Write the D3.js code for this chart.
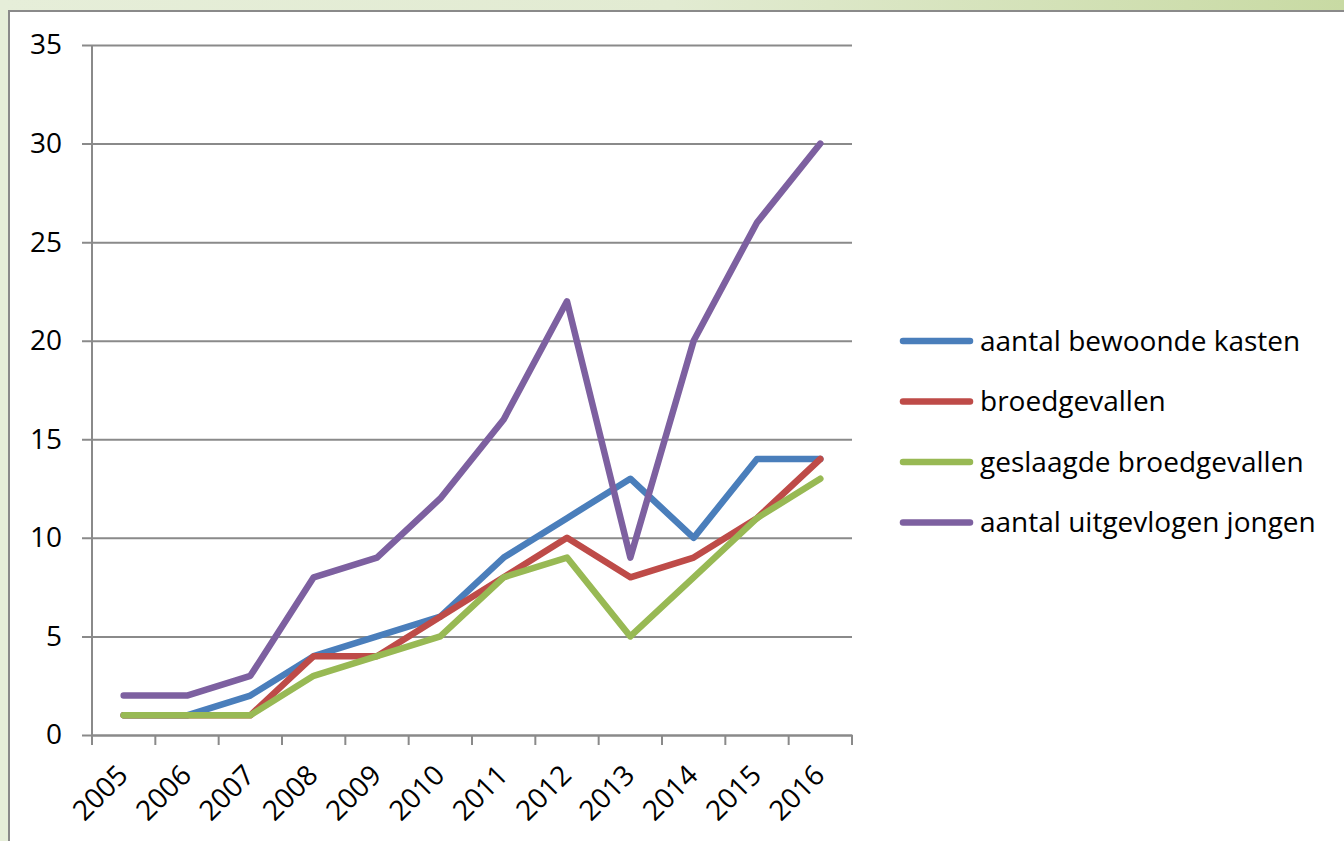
<!DOCTYPE html>
<html>
<head>
<meta charset="utf-8">
<script src="https://cdn.jsdelivr.net/npm/d3@7"></script>
<style>
  html, body { margin: 0; padding: 0; }
  body { width: 1344px; height: 841px; overflow: hidden; }
</style>
</head>
<body>
<svg id="chart" width="1344" height="841"></svg>
<script>
const years = ['2005','2006','2007','2008','2009','2010','2011','2012','2013','2014','2015','2016'];
const bewoondeKasten = [1, 1, 2, 4, 5, 6, 9, 11, 13, 10, 14, 14];
const broedgevallen = [1, 1, 1, 4, 4, 6, 8, 10, 8, 9, 11, 14];
const geslaagd = [1, 1, 1, 3, 4, 5, 8, 9, 5, 8, 11, 13];
const uitgevlogen = [2, 2, 3, 8, 9, 12, 16, 22, 9, 20, 26, 30];
const seriesNames = ['aantal bewoonde kasten', 'broedgevallen', 'geslaagde broedgevallen', 'aantal uitgevlogen jongen'];
const yTicks = [0, 5, 10, 15, 20, 25, 30, 35];

const colors = ['#4a7ebb', '#be4b48', '#98b954', '#7d60a0'];
const series = [bewoondeKasten, broedgevallen, geslaagd, uitgevlogen];

const dim = {left: 92, right: 852, top: 45, bottom: 735};
const font = '"Open Sans", sans-serif';

const svg = d3.select('#chart');

// background frame
const defs = svg.append('defs');
const grad = defs.append('linearGradient').attr('id', 'bg')
  .attr('x1', '0%').attr('y1', '0%').attr('x2', '100%').attr('y2', '0%');
grad.append('stop').attr('offset', '0%').attr('stop-color', '#e6eed9');
grad.append('stop').attr('offset', '50%').attr('stop-color', '#e2ebd2');
grad.append('stop').attr('offset', '100%').attr('stop-color', '#c8daa3');
svg.append('rect').attr('width', 1344).attr('height', 841).attr('fill', 'url(#bg)');
svg.append('rect').attr('x', 9).attr('y', 11).attr('width', 1400).attr('height', 900)
  .attr('fill', '#fff').attr('stroke', '#8a8a8a').attr('stroke-width', 2);

const x = d3.scaleBand().domain(years).range([dim.left, dim.right]);
const y = d3.scaleLinear().domain([0, 35]).range([dim.bottom, dim.top]);

// y axis + gridlines
const yAxis = d3.axisLeft(y)
  .tickValues(yTicks)
  .tickSize(-(dim.right - dim.left))
  .tickPadding(30);
const yG = svg.append('g').attr('transform', `translate(${dim.left},0)`).call(yAxis);
yG.select('.domain').remove();
yG.selectAll('.tick line').attr('stroke', '#8a8a8a').attr('stroke-width', 2).attr('x1', -10);
yG.selectAll('.tick text').attr('fill', '#000').attr('font-family', font).attr('font-size', 28);
svg.append('line').attr('x1', dim.left).attr('x2', dim.left).attr('y1', dim.top).attr('y2', dim.bottom + 10)
  .attr('stroke', '#8a8a8a').attr('stroke-width', 2);

// x axis
const xAxis = d3.axisBottom(x).tickSize(0).tickPadding(0);
const xG = svg.append('g').attr('transform', `translate(0,${dim.bottom})`).call(xAxis);
xG.select('.domain').attr('stroke', '#8a8a8a').attr('stroke-width', 2);
const edges = years.map(d => x(d)).concat([dim.right]);
xG.selectAll('.edge').data(edges).enter().append('line')
  .attr('x1', d => d).attr('x2', d => d).attr('y1', 0).attr('y2', 10)
  .attr('stroke', '#8a8a8a').attr('stroke-width', 2);
xG.selectAll('.tick text')
  .attr('fill', '#000').attr('font-family', font).attr('font-size', 28)
  .attr('text-anchor', 'end').attr('dy', 0)
  .attr('transform', 'translate(6,42) rotate(-45)');

// lines
const line = d3.line()
  .x((d, i) => x(years[i]) + x.bandwidth() / 2)
  .y(d => y(d));
series.forEach((s, i) => {
  svg.append('path').datum(s)
    .attr('fill', 'none')
    .attr('stroke', colors[i])
    .attr('stroke-width', 6.5)
    .attr('stroke-linejoin', 'round')
    .attr('stroke-linecap', 'round')
    .attr('d', line);
});

// legend
const legend = svg.append('g').attr('transform', 'translate(903,341)');
seriesNames.forEach((name, i) => {
  const g = legend.append('g').attr('transform', `translate(0,${i * 60.5})`);
  g.append('line').attr('x1', 0).attr('x2', 67).attr('y1', 0).attr('y2', 0)
    .attr('stroke', colors[i]).attr('stroke-width', 6.5).attr('stroke-linecap', 'round');
  g.append('text').attr('x', 77).attr('y', 0).attr('dy', '0.35em')
    .attr('font-family', font).attr('font-size', 28).attr('fill', '#000')
    .text(name);
});
</script>
</body>
</html>
